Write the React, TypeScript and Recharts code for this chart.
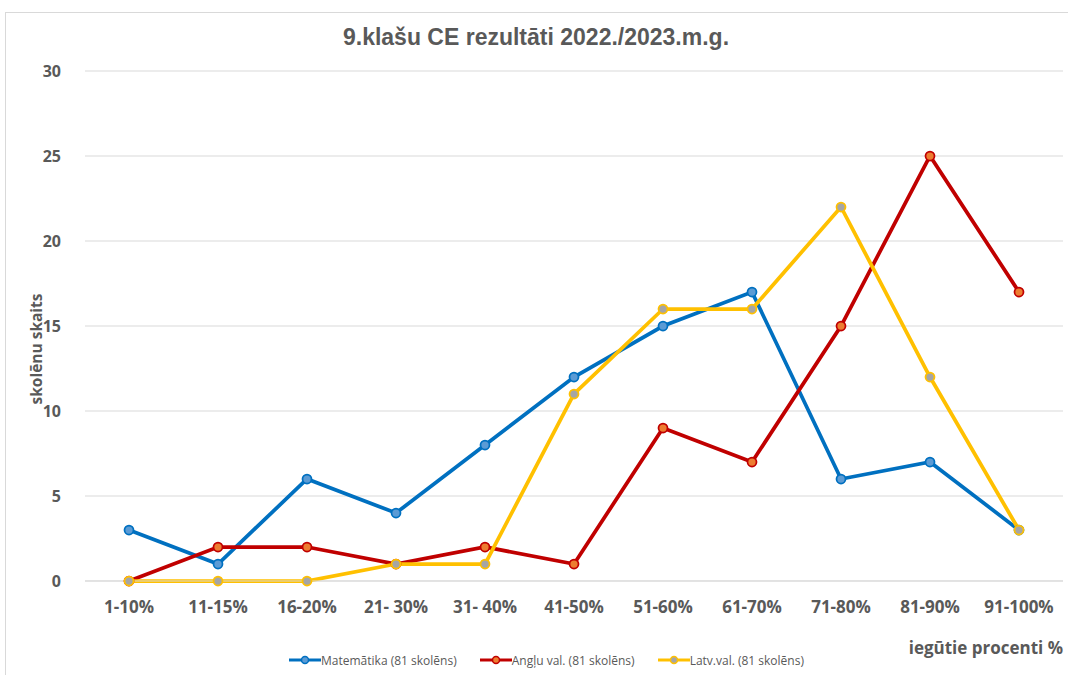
import { LineChart, Line, XAxis, YAxis, CartesianGrid, Legend } from "recharts"

const categories = ["1-10%", "11-15%", "16-20%", "21- 30%", "31- 40%", "41-50%", "51-60%", "61-70%", "71-80%", "81-90%", "91-100%"]
const matematika = [3, 1, 6, 4, 8, 12, 15, 17, 6, 7, 3]
const anglu = [0, 2, 2, 1, 2, 1, 9, 7, 15, 25, 17]
const latv = [0, 0, 0, 1, 1, 11, 16, 16, 22, 12, 3]
const yTicks = [0, 5, 10, 15, 20, 25, 30]

const series = [
  { key: "mat", name: "Matemātika (81 skolēns)", stroke: "#0070C0", fill: "#5B9BD5" },
  { key: "ang", name: "Angļu val. (81 skolēns)", stroke: "#C00000", fill: "#ED7D31" },
  { key: "lat", name: "Latv.val. (81 skolēns)", stroke: "#FFC000", fill: "#A5A5A5" },
]

const data = categories.map((c, i) => ({ cat: c, mat: matematika[i], ang: anglu[i], lat: latv[i] }))

const font = "'Open Sans', sans-serif"
const gray = "#595959"

function LegendContent() {
  return (
    <div style={{ display: "flex", justifyContent: "center", gap: 23, fontFamily: font, fontSize: 12, color: gray, height: 20, alignItems: "center", paddingLeft: 30 }}>
      {series.map((s) => (
        <div key={s.key} style={{ display: "flex", alignItems: "center" }}>
          <svg width={32} height={10}>
            <line x1={0} y1={5} x2={32} y2={5} stroke={s.stroke} strokeWidth={3} />
            <circle cx={16} cy={5} r={3.5} fill={s.fill} stroke={s.stroke} strokeWidth={1.5} />
          </svg>
          <span>{s.name}</span>
        </div>
      ))}
    </div>
  )
}

export default function App() {
  return (
    <div style={{ position: "absolute", left: 0, top: 0, width: 1068, height: 675, background: "#fff", overflow: "hidden" }}>
      <div style={{ position: "absolute", left: 5, top: 12, width: 1070, height: 680, border: "1px solid #d9d9d9" }} />
      <div style={{ position: "absolute", left: 0, top: 24, width: 1072, textAlign: "center", fontFamily: "'Liberation Sans', sans-serif", fontWeight: "bold", fontSize: 23, color: gray }}>
        9.klašu CE rezultāti 2022./2023.m.g.
      </div>
      <div style={{ position: "absolute", left: 0, top: 0 }}>
        <LineChart width={1068} height={675} data={data} margin={{ top: 71, right: 5, left: 0, bottom: 5 }}>
          <CartesianGrid vertical={false} stroke="#d9d9d9" />
          <XAxis
            dataKey="cat"
            axisLine={{ stroke: "#d9d9d9" }}
            tickLine={false}
            padding={{ left: 44, right: 44 }}
            tick={{ fill: gray, fontSize: 17, fontWeight: "bold", fontFamily: font }}
            tickMargin={14}
            height={69}
            label={{
              content: () => (
                <text x={1063} y={654} textAnchor="end" fill={gray} fontSize={17} fontWeight="bold" fontFamily={font}>
                  iegūtie procenti %
                </text>
              ),
            }}
          />
          <YAxis
            domain={[0, 30]}
            ticks={yTicks}
            width={85}
            axisLine={false}
            tickLine={false}
            tick={{ fill: gray, fontSize: 16, fontWeight: "bold", fontFamily: font }}
            tickMargin={18}
            label={{
              content: () => (
                <text x={42} y={349} transform="rotate(-90 42 349)" textAnchor="middle" fill={gray} fontSize={15.5} fontWeight="bold" fontFamily={font}>
                  skolēnu skaits
                </text>
              ),
            }}
          />
          <Legend verticalAlign="bottom" height={20} content={<LegendContent />} />
          {series.map((s) => (
            <Line
              key={s.key}
              dataKey={s.key}
              name={s.name}
              stroke={s.stroke}
              strokeWidth={3.75}
              dot={{ r: 4.5, fill: s.fill, stroke: s.stroke, strokeWidth: 1.75 }}
              activeDot={false}
              isAnimationActive={false}
            />
          ))}
        </LineChart>
      </div>
    </div>
  )
}
